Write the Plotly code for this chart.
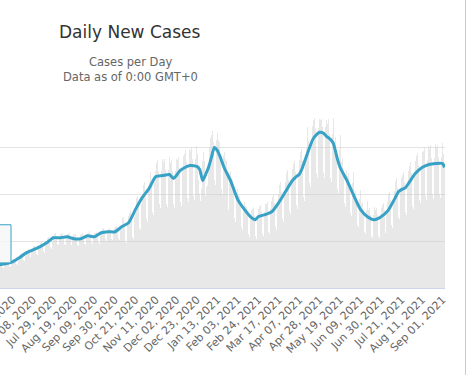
import pandas as pd
import plotly.graph_objects as go

# ---- data ----
bar_start = "2020-06-04"
daily_rows = [
    [1070, 1090, 1020, 880, 850, 1020, 1070],
    [1130, 1160, 1080, 930, 900, 1080, 1130],
    [1230, 1250, 1170, 1010, 980, 1170, 1230],
    [1440, 1470, 1380, 1190, 1150, 1380, 1440],
    [1630, 1660, 1550, 1340, 1290, 1550, 1630],
    [1770, 1800, 1680, 1450, 1400, 1680, 1770],
    [1900, 1940, 1820, 1570, 1510, 1820, 1900],
    [2110, 2150, 2010, 1730, 1670, 2010, 2110],
    [2290, 2330, 2180, 1880, 1820, 2180, 2290],
    [2300, 2340, 2190, 1890, 1830, 2190, 2300],
    [2310, 2350, 2200, 1900, 1840, 2200, 2310],
    [2240, 2280, 2130, 1840, 1780, 2130, 2240],
    [2280, 2320, 2170, 1870, 1810, 2170, 2280],
    [2360, 2410, 2250, 1940, 1880, 2250, 2360],
    [2350, 2400, 2240, 1940, 1870, 2240, 2350],
    [2530, 2570, 2410, 2080, 2010, 2410, 2530],
    [2560, 2610, 2440, 2100, 2030, 2440, 2560],
    [2590, 2640, 2470, 2130, 2060, 2470, 2590],
    [2960, 3040, 2770, 1980, 1900, 2770, 3060],
    [3210, 3300, 3010, 2150, 2070, 3010, 3330],
    [3820, 3920, 3580, 2560, 2460, 3580, 3960],
    [4370, 4490, 4100, 2930, 2810, 4100, 4520],
    [4820, 4950, 4520, 3230, 3100, 4520, 4990],
    [5320, 5460, 4990, 3560, 3420, 4990, 5510],
    [5360, 5510, 5030, 3590, 3450, 5030, 5560],
    [5320, 5460, 4990, 3560, 3420, 4990, 5510],
    [5430, 5580, 5090, 3640, 3490, 5090, 5630],
    [5710, 5870, 5360, 3830, 3670, 5360, 5920],
    [5840, 5990, 5470, 3910, 3750, 5470, 6040],
    [5700, 4600, 4000, 3700, 4200, 5400, 5800],
    [5400, 3900, 4300, 4400, 5200, 6000, 6400],
    [6500, 6700, 6200, 4600, 4400, 6300, 6600],
    [6300, 6200, 5700, 4200, 4000, 5600, 5800],
    [5500, 5400, 4900, 3500, 3300, 4800, 5000],
    [4700, 4600, 4200, 3000, 2800, 4000, 4200],
    [3950, 3900, 3600, 2600, 2450, 3500, 3650],
    [3500, 3450, 3200, 2300, 2150, 3150, 3300],
    [3350, 3400, 3100, 2200, 2080, 3100, 3350],
    [3450, 3550, 3230, 2310, 2220, 3230, 3570],
    [3570, 3670, 3350, 2390, 2300, 3350, 3700],
    [3860, 3970, 3620, 2590, 2480, 3620, 4000],
    [4370, 4490, 4100, 2930, 2810, 4100, 4520],
    [4890, 5030, 4590, 3280, 3150, 4590, 5070],
    [5260, 5410, 4940, 3530, 3380, 4940, 5450],
    [5770, 5920, 5410, 3860, 3710, 5410, 5970],
    [6660, 6840, 6250, 4460, 4280, 6250, 6900],
    [7150, 7250, 6830, 4880, 4680, 6830, 7180],
    [7170, 7200, 6850, 4890, 4690, 6850, 7150],
    [7000, 7190, 6560, 4690, 4500, 6560, 7250],
    [6270, 6440, 5880, 4200, 4030, 5880, 6500],
    [5380, 5520, 5040, 3600, 3460, 5040, 5570],
    [4760, 4890, 4460, 3190, 3060, 4460, 4930],
    [4030, 4140, 3780, 2700, 2590, 3780, 4180],
    [3560, 3660, 3340, 2390, 2290, 3340, 3690],
    [3320, 3400, 3110, 2220, 2130, 3110, 3430],
    [3300, 3390, 3100, 2210, 2120, 3100, 3420],
    [3530, 3620, 3310, 2360, 2270, 3310, 3650],
    [3980, 4080, 3730, 2660, 2560, 3730, 4120],
    [4540, 4660, 4250, 3040, 2920, 4250, 4700],
    [4820, 4950, 4520, 3230, 3100, 4520, 4990],
    [5210, 5350, 4880, 3490, 3350, 4880, 5390],
    [5600, 5750, 5250, 3750, 3600, 5250, 5800],
    [5820, 5980, 5460, 3900, 3740, 5460, 6030],
    [5910, 6070, 5540, 3960, 3800, 5540, 6120],
    [5940, 6100, 5570, 3980, 3820, 5570, 6150],
    [5700, 5200],
]

avg_dates = [
    "2020-06-03", "2020-06-10", "2020-06-17", "2020-06-24", "2020-07-01", "2020-07-08",
    "2020-07-15", "2020-07-22", "2020-07-29", "2020-08-05", "2020-08-12", "2020-08-19",
    "2020-08-26", "2020-09-02", "2020-09-09", "2020-09-16", "2020-09-23", "2020-09-30",
    "2020-10-07", "2020-10-14", "2020-10-21", "2020-10-28", "2020-11-04", "2020-11-11",
    "2020-11-18", "2020-11-25", "2020-11-29", "2020-12-02", "2020-12-05", "2020-12-09",
    "2020-12-16", "2020-12-23", "2020-12-26", "2020-12-29", "2021-01-01", "2021-01-04",
    "2021-01-07", "2021-01-10", "2021-01-13", "2021-01-17", "2021-01-20", "2021-01-27",
    "2021-02-03", "2021-02-10", "2021-02-17", "2021-02-21", "2021-02-24", "2021-03-03",
    "2021-03-10", "2021-03-17", "2021-03-24", "2021-03-31", "2021-04-04", "2021-04-07",
    "2021-04-10", "2021-04-14", "2021-04-21", "2021-04-25", "2021-04-28", "2021-05-02",
    "2021-05-05", "2021-05-09", "2021-05-12", "2021-05-16", "2021-05-19", "2021-05-26",
    "2021-06-02", "2021-06-09", "2021-06-16", "2021-06-23", "2021-06-30", "2021-07-07",
    "2021-07-14", "2021-07-18", "2021-07-21", "2021-07-25", "2021-07-28", "2021-08-04",
    "2021-08-11", "2021-08-18", "2021-08-25", "2021-09-01", "2021-09-03",
]
avg_values = [
    983, 1026, 1111, 1282, 1496, 1624,
    1752, 1923, 2137, 2137, 2180, 2094,
    2094, 2222, 2180, 2351, 2393, 2393,
    2607, 2778, 3334, 3847, 4231, 4744,
    4787, 4830, 4659, 4787, 4958, 5086,
    5214, 5172, 5043, 4573, 4830, 5129,
    5556, 5984, 5855, 5471, 5129, 4530,
    3761, 3334, 2992, 2906, 3035, 3120,
    3248, 3633, 4103, 4573, 4744, 4830,
    5086, 5556, 6325, 6539, 6625, 6582,
    6454, 6325, 6155, 5513, 5129, 4573,
    3932, 3334, 3035, 2906, 3035, 3291,
    3804, 4103, 4188, 4274, 4445, 4872,
    5129, 5257, 5300, 5300, 5129,
]

tick_dates = [
    "2020-06-17", "2020-07-08", "2020-07-29", "2020-08-19", "2020-09-09", "2020-09-30",
    "2020-10-21", "2020-11-11", "2020-12-02", "2020-12-23", "2021-01-13", "2021-02-03",
    "2021-02-24", "2021-03-17", "2021-04-07", "2021-04-28", "2021-05-19", "2021-06-09",
    "2021-06-30", "2021-07-21", "2021-08-11", "2021-09-01",
]
tick_labels = [
    "Jun 17, 2020", "Jul 08, 2020", "Jul 29, 2020", "Aug 19, 2020", "Sep 09, 2020", "Sep 30, 2020",
    "Oct 21, 2020", "Nov 11, 2020", "Dec 02, 2020", "Dec 23, 2020", "Jan 13, 2021", "Feb 03, 2021",
    "Feb 24, 2021", "Mar 17, 2021", "Apr 07, 2021", "Apr 28, 2021", "May 19, 2021", "Jun 09, 2021",
    "Jun 30, 2021", "Jul 21, 2021", "Aug 11, 2021", "Sep 01, 2021",
]

daily_values = [v for row in daily_rows for v in row]
daily_dates = pd.date_range(bar_start, periods=len(daily_values), freq="D")

LINE = "#37a2c6"

fig = go.Figure()
fig.add_trace(go.Bar(
    x=daily_dates, y=daily_values,
    marker=dict(color="rgba(205,205,205,0.45)", line=dict(width=0)),
    hoverinfo="skip", showlegend=False,
))
fig.add_trace(go.Scatter(
    x=avg_dates, y=avg_values, mode="lines",
    line=dict(color=LINE, width=3, shape="spline", smoothing=0.6),
    hoverinfo="skip", showlegend=False,
))

fig.update_layout(
    width=467, height=375,
    margin=dict(l=0, r=22, t=100, b=87, autoexpand=False),
    paper_bgcolor="white", plot_bgcolor="white",
    bargap=0,
    font=dict(family="DejaVu Sans", color="#666666"),
    xaxis=dict(
        type="date", automargin=False,
        range=["2020-06-04 05:00", "2021-09-03 12:00"],
        tickmode="array", tickvals=tick_dates, ticktext=tick_labels,
        tickangle=-45, tickfont=dict(size=11, color="#666666"),
        ticklabeloverflow="allow",
        showgrid=False, showline=True, linecolor="#ccd6eb", linewidth=1,
        ticks="", zeroline=False,
    ),
    yaxis=dict(
        automargin=False,
        range=[0, 8000], tickvals=[0, 2000, 4000, 6000, 8000],
        showticklabels=False, gridcolor="#e3e3e3", gridwidth=1,
        zeroline=False, ticks="",
    ),
    shapes=[
        dict(type="rect", xref="paper", yref="paper",
             x0=-0.1, x1=11 / 445, y0=(288 - 263) / 187.3, y1=(288 - 225) / 187.3,
             fillcolor="rgba(247,247,247,0.85)", line=dict(color=LINE, width=1), layer="above"),
        dict(type="line", xref="paper", yref="paper",
             x0=465.5 / 445, x1=465.5 / 445, y0=-1, y1=2,
             line=dict(color="#cccccc", width=1)),
    ],
    annotations=[
        dict(text="Daily New Cases", xref="paper", yref="paper", x=130 / 445, y=(288 - 33) / 187.3,
             showarrow=False, xanchor="center", yanchor="middle",
             font=dict(size=17, color="#333333", family="DejaVu Sans")),
        dict(text="Cases per Day", xref="paper", yref="paper", x=130 / 445, y=(288 - 63) / 187.3,
             showarrow=False, xanchor="center", yanchor="middle",
             font=dict(size=11.5, color="#666666", family="DejaVu Sans")),
        dict(text="Data as of 0:00 GMT+0", xref="paper", yref="paper", x=130 / 445, y=(288 - 77.5) / 187.3,
             showarrow=False, xanchor="center", yanchor="middle",
             font=dict(size=11.5, color="#666666", family="DejaVu Sans")),
    ],
)

fig.write_html(
    "out.html",
    config={"displayModeBar": False},
    post_script="document.body.style.margin='0';document.body.style.overflow='hidden';",
)
